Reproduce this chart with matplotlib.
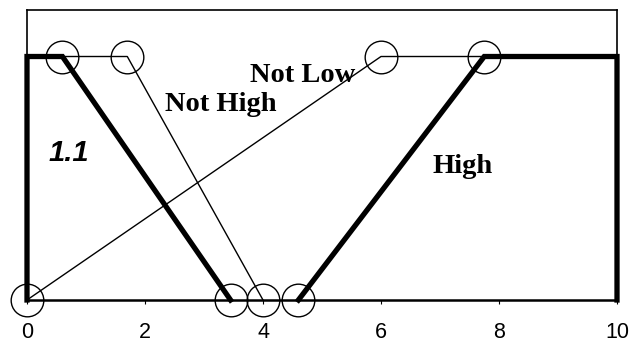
import matplotlib
matplotlib.use("Agg")
import matplotlib.pyplot as plt

# Data
low_x = [0, 0, 0.6, 3.45]
low_y = [0, 1, 1, 0]
not_high_x = [0, 1.7, 4.0]
not_high_y = [1, 1, 0]
not_low_x = [0, 6.0, 7.75]
not_low_y = [0, 1, 1]
high_x = [4.6, 7.75, 10, 10]
high_y = [0, 1, 1, 0]
circle_x = [0, 0.6, 1.7, 3.45, 4.0, 4.6, 6.0, 7.75]
circle_y = [0, 1, 1, 0, 0, 0, 1, 1]
xticks = [0, 2, 4, 6, 8, 10]

labels = [("Not Low", 3.78, 0.897), ("Not High", 2.34, 0.776), ("High", 6.88, 0.52)]

fig = plt.figure(figsize=(6.37, 3.42), dpi=100)
ax = fig.add_axes([27/637, 42/342, 590/637, 290/342])

ax.plot(not_low_x, not_low_y, color="black", lw=1.0, clip_on=False)
ax.plot(not_high_x, not_high_y, color="black", lw=1.0, clip_on=False)
ax.plot(low_x, low_y, color="black", lw=3.8, clip_on=False, solid_joinstyle="miter")
ax.plot(high_x, high_y, color="black", lw=3.8, clip_on=False, solid_joinstyle="miter")
ax.plot(circle_x, circle_y, linestyle="none", marker="o", markersize=23.5,
        markerfacecolor="none", markeredgecolor="black", markeredgewidth=1.0, clip_on=False)

for txt, x, y in labels:
    ax.text(x, y, txt, family="Liberation Serif", fontweight="bold", fontsize=20.5,
            ha="left", va="baseline")
ax.text(0.36, 0.569, "1.1", family="Liberation Sans", fontweight="bold", style="italic",
        fontsize=21, ha="left", va="baseline")

ax.set_xlim(0, 10)
ax.set_ylim(0, 1.191)
ax.set_xticks(xticks)
ax.set_xticklabels([str(t) for t in xticks], family="Liberation Sans", fontsize=15.5)
ax.set_yticks([])
ax.tick_params(axis="x", direction="out", length=3, width=0.8, pad=13)
for s in ["top", "left", "right"]:
    ax.spines[s].set_linewidth(1.2)
ax.spines["bottom"].set_linewidth(1.8)

fig.savefig("out.png", dpi=100)
